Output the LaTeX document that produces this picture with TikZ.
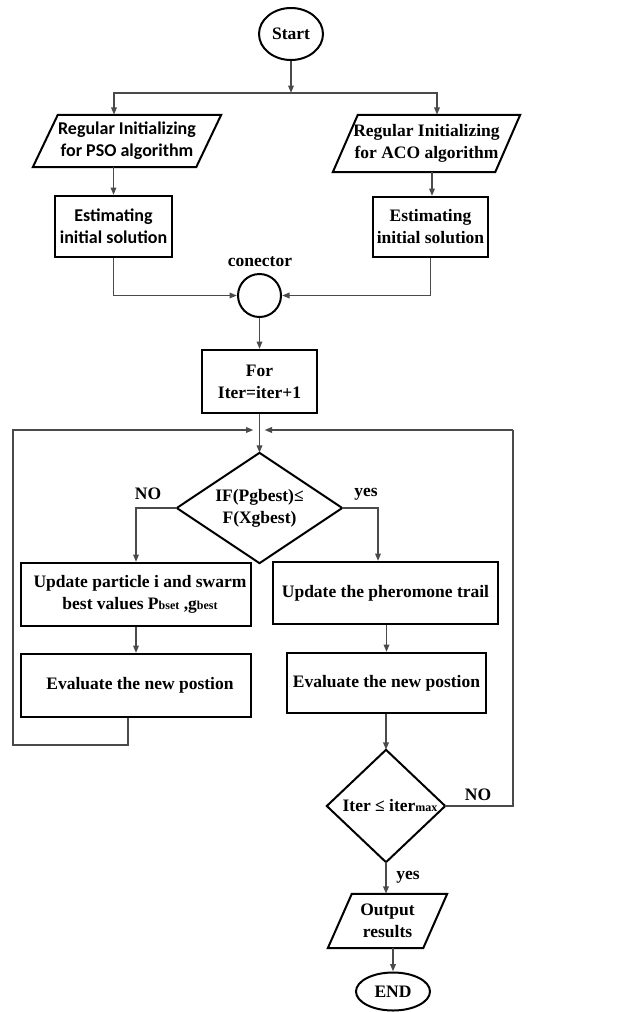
\documentclass[tikz,border=0pt]{standalone}
\usepackage{fontspec}
\setmainfont{Liberation Serif}
\newfontfamily\calfont{Carlito}
\usetikzlibrary{arrows.meta,shapes.geometric}
\definecolor{linegray}{HTML}{4A4A4A}
\begin{document}
\begin{tikzpicture}[x=1pt,y=-1pt,
  txt/.style={inner sep=0pt, align=center, font=\fontsize{17.5}{22}\selectfont\bfseries},
  box/.style={txt, draw=black, line width=2pt},
  outline/.style={draw=black, line width=2pt, line join=miter},
  conn/.style={draw=linegray, line width=1.8pt, -{Triangle[length=7.5pt,width=5.5pt]}},
  line/.style={draw=linegray, line width=1.8pt},
  lab/.style={inner sep=0pt, font=\fontsize{17.5}{22}\selectfont\bfseries}]
\useasboundingbox (0,0) rectangle (624,1012);

% nodes
\node[box, ellipse, minimum width=64, minimum height=52] (start) at (291,34) {Start};
\coordinate (split) at (291,93);
\node[txt, minimum width=188, minimum height=52, font=\calfont\fontsize{18}{22}\selectfont\bfseries] (pso) at (127,141) {Regular Initializing\\for PSO algorithm};
\draw[outline] ([xshift=25]pso.north west) -- (pso.north east) -- ([xshift=-25]pso.south east) -- (pso.south west) -- cycle;
\node[txt, minimum width=187, minimum height=57] (aco) at (426.5,143.5) {Regular Initializing\\for ACO algorithm};
\draw[outline] ([xshift=25]aco.north west) -- (aco.north east) -- ([xshift=-25]aco.south east) -- (aco.south west) -- cycle;
\node[box, minimum width=117, minimum height=61, font=\calfont\fontsize{18}{22}\selectfont\bfseries] (est1) at (113.5,226.5) {Estimating\\initial solution};
\node[box, minimum width=115, minimum height=60] (est2) at (430.5,227) {Estimating\\initial solution};
\node[draw=black, line width=2pt, circle, minimum size=43, inner sep=0pt] (conn) at (259.5,295.5) {};
\node[lab] (conlab) at (260,262) {conector};
\node[box, minimum width=115, minimum height=63] (for) at (259.5,381.5) {For\\Iter=iter+1};
\coordinate (j) at (259.5,430);
\node[txt, minimum width=165, minimum height=110] (d1) at (259.5,508) {IF(Pgbest)≤\\F(Xgbest)};
\draw[outline] (d1.north) -- (d1.east) -- (d1.south) -- (d1.west) -- cycle;
\node[box, minimum width=230, minimum height=63] (upd1) at (136,594.5) {\hspace*{8pt}Update particle i and swarm\\\hspace*{8pt}best values P{\fontsize{12}{12}\selectfont bset} ,g{\fontsize{12}{12}\selectfont best}};
\node[box, minimum width=225, minimum height=62] (upd2) at (385.5,593) {Update the pheromone trail};
\node[box, minimum width=230, minimum height=63] (eval1) at (136,685.5) {\hspace*{8pt}Evaluate the new postion};
\node[box, minimum width=199, minimum height=60] (eval2) at (386.5,683) {Evaluate the new postion};
\node[txt, minimum width=118, minimum height=112] (d2) at (386,806) {\hspace*{8pt}Iter ≤ iter{\fontsize{12}{12}\selectfont max}};
\draw[outline] (d2.north) -- (d2.east) -- (d2.south) -- (d2.west) -- cycle;
\node[txt, minimum width=119, minimum height=54] (out) at (387.5,921) {Output\\results};
\draw[outline] ([xshift=24]out.north west) -- (out.north east) -- ([xshift=-24]out.south east) -- (out.south west) -- cycle;
\node[box, ellipse, minimum width=74, minimum height=38] (end) at (393,991.5) {END};

% labels
\node[lab] (no1) at (148,494) {NO};
\node[lab] (yes1) at (366,494) {yes};
\node[lab] (no2) at (478,795) {NO};
\node[lab] (yes2) at (408,877) {yes};

% connectors
\draw[conn] (start) -- (split);
\draw[conn] (split) -| ([xshift=-13]pso.north);
\draw[conn] (split) -| ([xshift=10.5]aco.north);
\draw[conn] (est1.north |- pso.south) -- (est1.north);
\draw[conn] ([xshift=1.5]est2.north |- aco.south) -- ([xshift=1.5]est2.north);
\draw[conn] (est1.south) |- (conn.west);
\draw[conn] (est2.south) |- (conn.east);
\draw[conn] (conn.south) -- (for.north);
\draw[conn] (for.south) -- (d1.north);
\draw[conn] ([xshift=-8]eval1.south) |- (13,745) |- ([xshift=-6]j);
\draw[line] (d2.east) -| (513,430);
\draw[conn] (513,430) -- ([xshift=5]j);
\draw[conn] (d1.west) -| (upd1.north);
\draw[conn] (d1.east) -| ([xshift=-7.5]upd2.north);
\draw[conn] (upd1.south) -- (eval1.north);
\draw[conn] (upd2.south -| eval2.north) -- (eval2.north);
\draw[conn] (eval2.south -| d2.north) -- (d2.north);
\draw[conn] (d2.south) -- (d2.south |- out.north);
\draw[conn] (end.north |- out.south) -- (end.north);
\end{tikzpicture}
\end{document}
